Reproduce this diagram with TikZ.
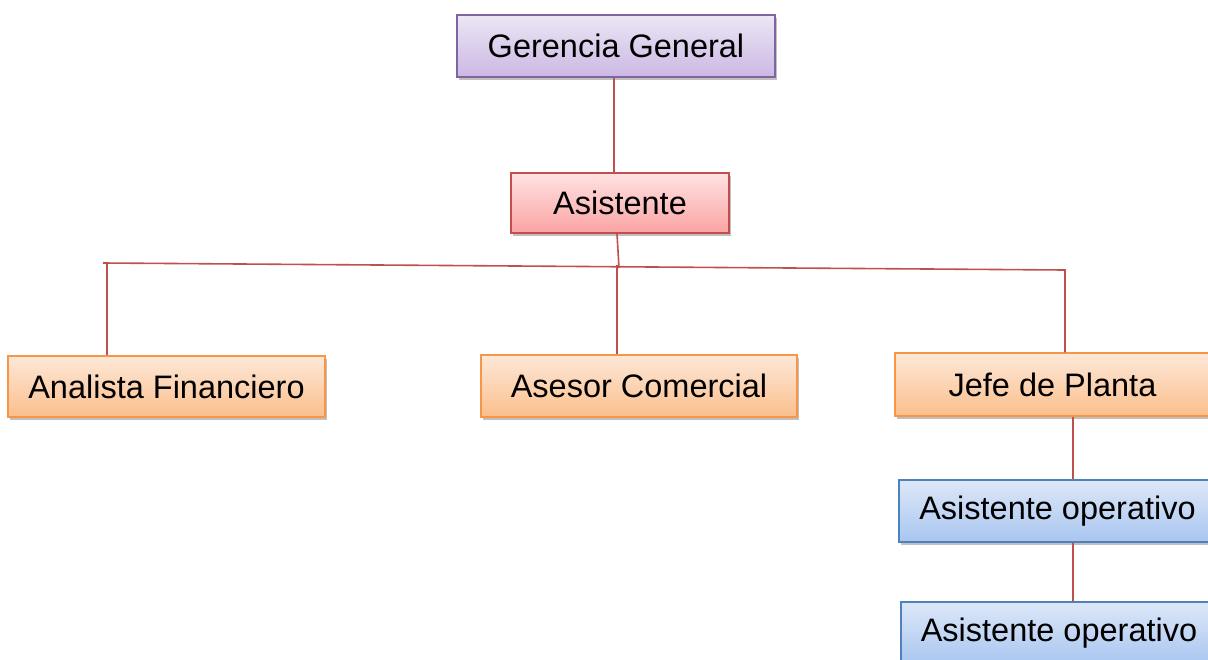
\documentclass[tikz,border=0pt]{standalone}
\usepackage{fontspec}
\setmainfont{Liberation Sans}
\usetikzlibrary{shadows}
\definecolor{conn}{HTML}{C0504D}
\definecolor{pbord}{HTML}{8064A2}
\definecolor{ptop}{HTML}{ECE6F5}
\definecolor{pbot}{HTML}{CBB8E3}
\definecolor{rtop}{HTML}{FFE2E2}
\definecolor{rbot}{HTML}{FBA3A3}
\definecolor{obord}{HTML}{F79646}
\definecolor{otop}{HTML}{FDE8D8}
\definecolor{obot}{HTML}{FBBF8C}
\definecolor{bbord}{HTML}{4F81BD}
\definecolor{btop}{HTML}{DDE7F8}
\definecolor{bbot}{HTML}{A9C6F0}
\tikzset{
  box/.style={rectangle, inner sep=0pt, line width=1.5pt,
    drop shadow={shadow xshift=2pt, shadow yshift=-3pt, opacity=0.45, fill=black!55},
    font=\fontsize{32.5}{38}\selectfont, text=black},
  purplebox/.style={box, draw=pbord, top color=ptop, bottom color=pbot},
  redbox/.style={box, draw=conn, top color=rtop, bottom color=rbot},
  orangebox/.style={box, draw=obord, top color=otop, bottom color=obot},
  bluebox/.style={box, draw=bbord, top color=btop, bottom color=bbot},
  link/.style={draw=conn, line width=1.6pt}
}
\begin{document}
\begin{tikzpicture}[x=1pt,y=-1pt]
\useasboundingbox (0,0) rectangle (1208,659);
\clip (0,0) rectangle (1208,659);
\node[purplebox, minimum width=318pt, minimum height=62pt] (gg) at (616,46) {Gerencia General};
\node[redbox, minimum width=218pt, minimum height=60pt] (as) at (620,203) {Asistente};
\node[orangebox, minimum width=317pt, minimum height=61pt] (af) at (166.5,386.5) {Analista Financiero};
\node[orangebox, minimum width=316pt, minimum height=62pt] (ac) at (639,386) {Asesor Comercial};
\node[orangebox, minimum width=315pt, minimum height=63pt] (jp) at (1052.5,384.5) {Jefe de Planta};
\node[bluebox, minimum width=317pt, minimum height=62pt] (ao1) at (1057.5,511) {Asistente operativo};
\node[bluebox, minimum width=316pt, minimum height=62pt] (ao2) at (1059,633) {Asistente operativo};
\coordinate (bl) at (103,263);
\coordinate (br) at (1065,270);
\coordinate (bm) at (619,268);
\coordinate (bm2) at (617,265);
\coordinate (bla) at (107,263);
\draw[link] ([xshift=-2pt]gg.south) -- ([xshift=-6pt]as.north);
\draw[link] ([xshift=-3pt]as.south) -- (bm);
\draw[link] (bl) -- (br) -- ([xshift=12.5pt]jp.north);
\draw[link] (bm2) -- ([xshift=-22pt]ac.north);
\draw[link] (bla) -- ([xshift=-59.5pt]af.north);
\draw[link] ([xshift=20.5pt]jp.south) -- ([xshift=15.5pt]ao1.north);
\draw[link] ([xshift=15.5pt]ao1.south) -- ([xshift=14pt]ao2.north);
\end{tikzpicture}
\end{document}
